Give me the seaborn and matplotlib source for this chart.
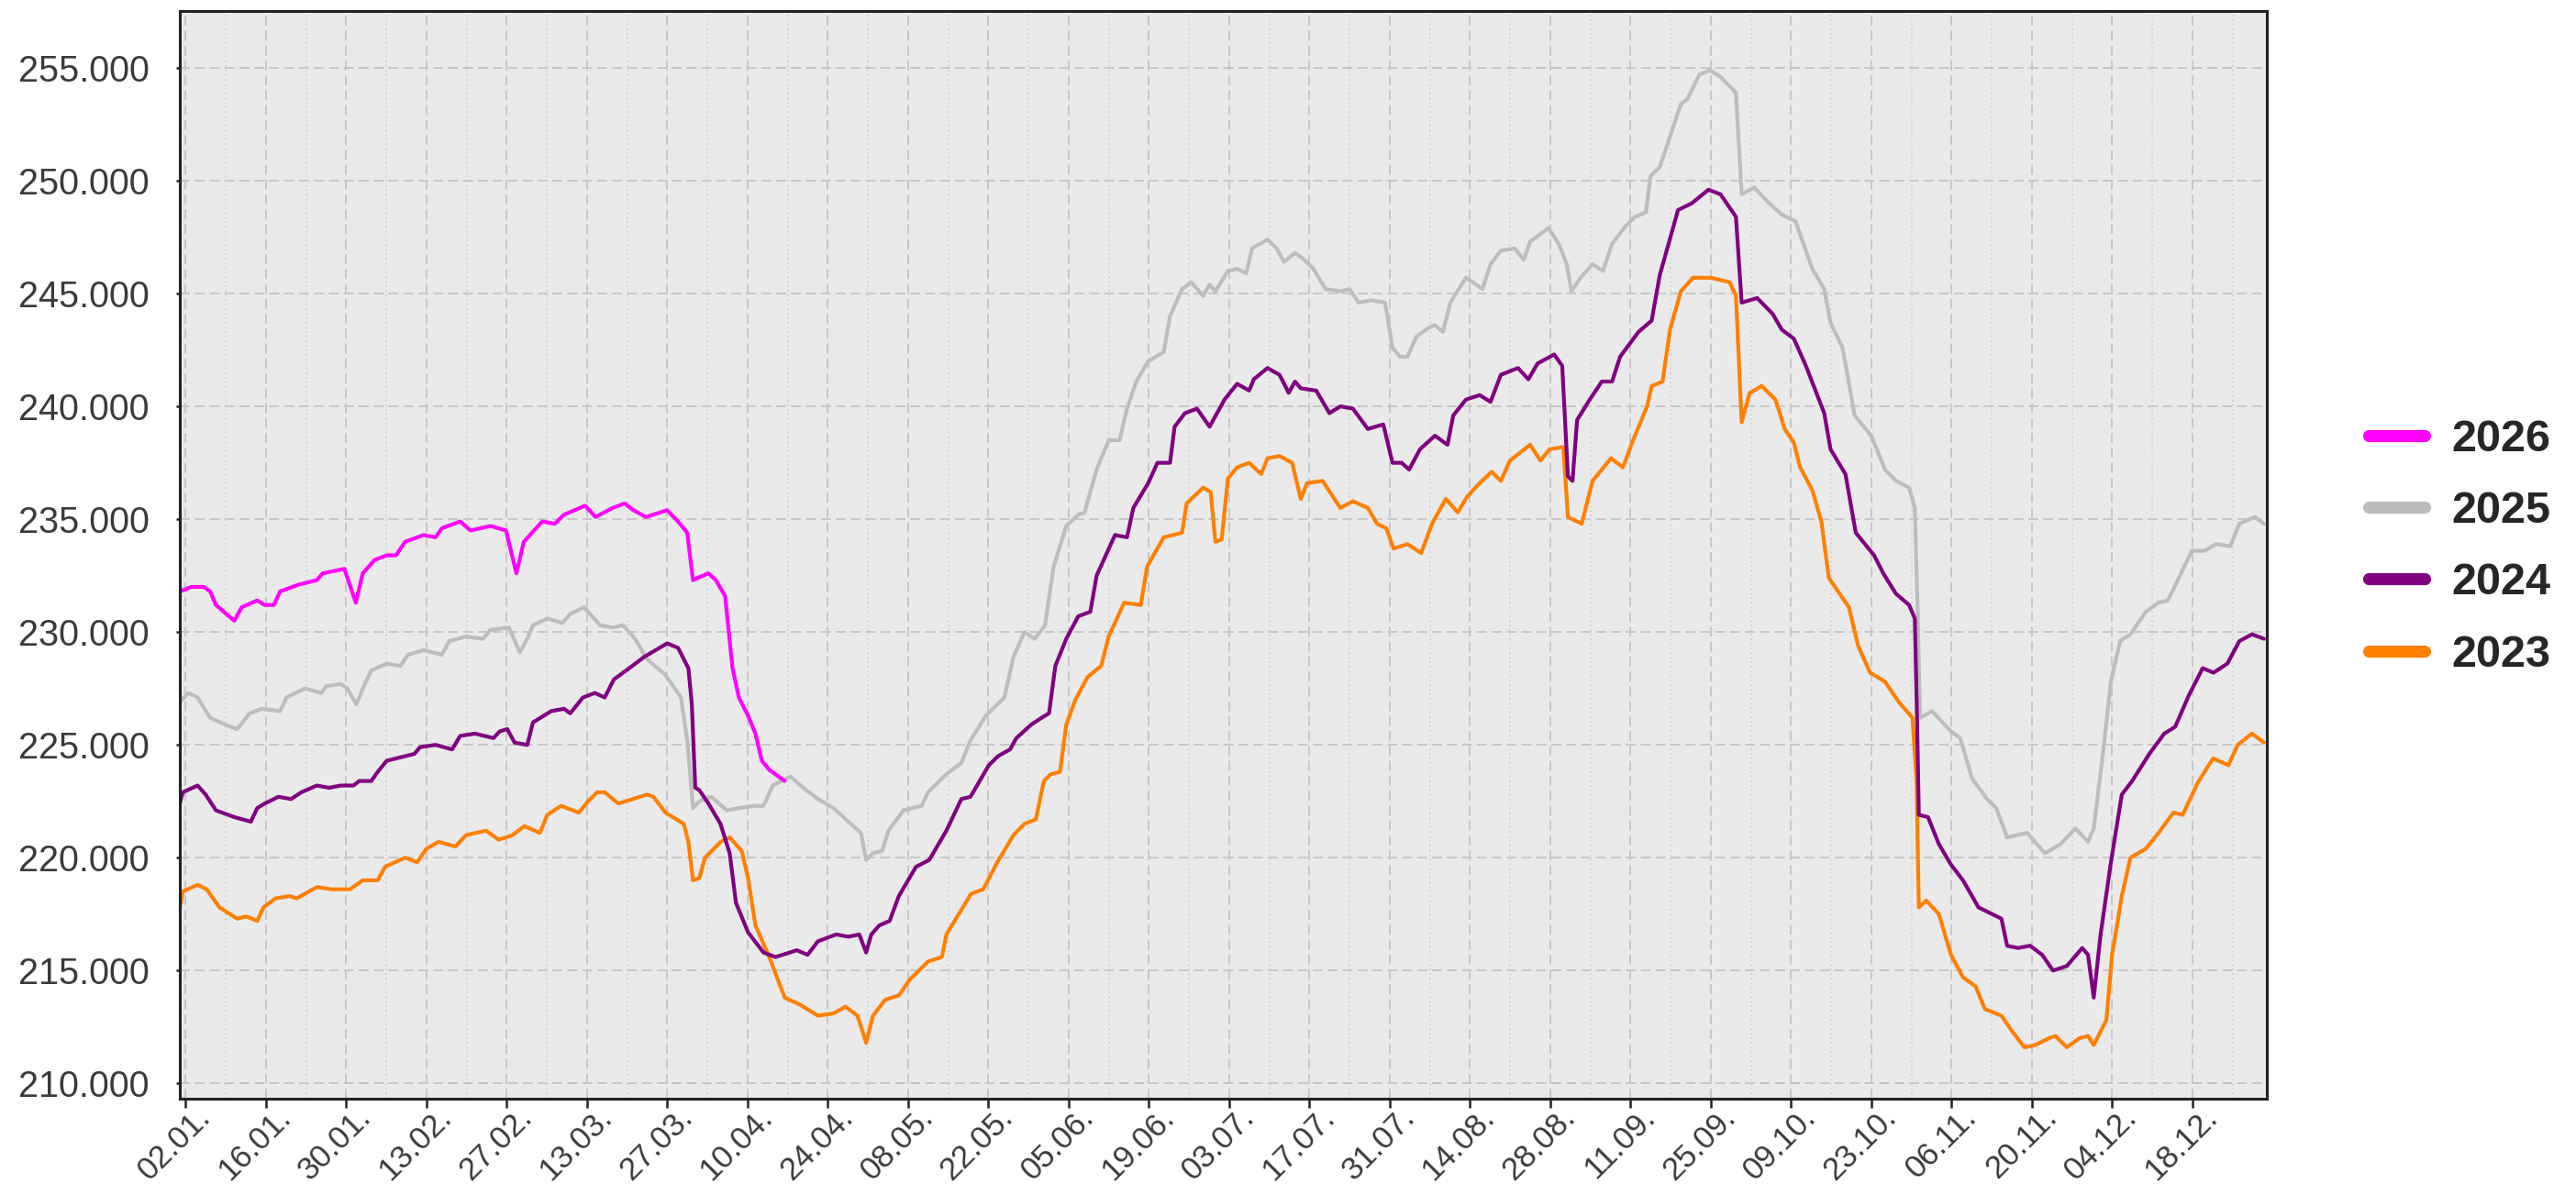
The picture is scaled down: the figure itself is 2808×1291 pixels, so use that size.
import pandas as pd
import matplotlib
matplotlib.use("Agg")
import matplotlib.pyplot as plt
import matplotlib.transforms as mtransforms
import seaborn as sns

# values in thousands, x = day of year (0 = 01.01.)
days_2026 = [0, 2.0, 4.2, 5.3, 6.3, 9.5, 10.8, 13.5, 14.8, 16.4, 17.5, 20.7, 23.9, 24.9, 28.7, 30.7, 31.9,
             34.0, 36.1, 37.7, 39.3, 42.5, 44.6, 45.7, 48.9, 50.7, 54.2, 56.9, 58.7, 60.0, 63.2, 65.4, 67.0,
             70.7, 72.5, 75.5, 77.6, 79.1, 81.3, 85.0, 86.9, 88.5, 89.5, 90.3, 92.2, 93.5, 95.1, 96.4, 97.5,
             99.1, 100.4, 101.5, 102.8, 104.4, 105.5]
vals_2026 = [231.8, 232.0, 232.0, 231.8, 231.2, 230.5, 231.1, 231.4, 231.2, 231.2, 231.8, 232.1, 232.3, 232.6,
             232.8, 231.3, 232.6, 233.2, 233.4, 233.4, 234.0, 234.3, 234.2, 234.6, 234.9, 234.5, 234.7, 234.5,
             232.6, 234.0, 234.9, 234.8, 235.2, 235.6, 235.1, 235.5, 235.7, 235.4, 235.1, 235.4, 234.9, 234.4,
             232.3, 232.4, 232.6, 232.3, 231.6, 228.4, 227.1, 226.3, 225.5, 224.3, 223.9, 223.6, 223.4]

days_2025 = [0, 1.5, 3.1, 5.3, 7.9, 10.0, 12.2, 14.3, 17.5, 18.6, 21.8, 24.7, 25.5, 28.1, 29.2, 30.8, 32.1,
             33.4, 36.1, 38.5, 39.8, 42.5, 45.7, 47.0, 49.9, 52.9, 54.2, 57.4, 59.3, 60.6, 61.6, 64.1, 66.7,
             68.1, 70.5, 73.3, 75.5, 77.3, 79.4, 81.5, 84.7, 87.4, 88.5, 89.5, 90.6, 92.7, 95.4, 97.5, 100.2,
             101.8, 103.4, 106.5, 108.7, 111.3, 114.0, 116.6, 118.8, 119.7, 120.9, 122.5, 123.6, 126.2, 129.4,
             130.5, 133.7, 136.3, 137.9, 140.6, 143.8, 145.4, 147.3, 149.1, 150.9, 152.4, 154.6, 156.7, 157.8,
             159.9, 162.0, 163.9, 165.2, 166.8, 168.9, 171.6, 172.7, 174.8, 176.4, 178.5, 179.6, 180.6, 182.8,
             184.4, 186.0, 187.0, 189.7, 191.3, 192.6, 194.5, 196.1, 197.7, 199.8, 202.4, 204.0, 205.6, 207.8,
             210.2, 211.5, 212.8, 214.1, 215.7, 217.9, 218.9, 220.3, 221.6, 224.3, 227.2, 228.6, 230.4, 232.8,
             234.4, 235.5, 238.7, 240.5, 241.9, 242.7, 244.3, 246.4, 248.2, 249.8, 252.2, 253.8, 255.7, 256.5,
             258.1, 259.7, 261.8, 262.9, 265.0, 266.9, 268.7, 271.4, 272.4, 274.6, 277.2, 279.4, 281.8, 284.7,
             286.8, 287.9, 290.0, 292.1, 295.0, 297.4, 299.3, 301.6, 302.6, 303.1, 303.5, 305.6, 308.9, 310.5,
             312.6, 315.2, 316.8, 318.7, 322.2, 325.3, 328.0, 330.6, 332.8, 333.8, 335.4, 336.8, 338.4, 340.2,
             342.9, 345.1, 346.7, 347.7, 350.9, 353.1, 355.2, 357.6, 359.2, 361.9, 363.5]
vals_2025 = [226.9, 227.3, 227.1, 226.2, 225.9, 225.7, 226.4, 226.6, 226.5, 227.1, 227.5, 227.3, 227.6, 227.7,
             227.5, 226.8, 227.6, 228.3, 228.6, 228.5, 229.0, 229.2, 229.0, 229.6, 229.8, 229.7, 230.1, 230.2,
             229.1, 229.7, 230.3, 230.6, 230.4, 230.8, 231.1, 230.3, 230.2, 230.3, 229.7, 228.8, 228.1, 227.1,
             225.2, 222.2, 222.5, 222.7, 222.1, 222.2, 222.3, 222.3, 223.2, 223.6, 223.1, 222.6, 222.2, 221.6,
             221.1, 219.9, 220.2, 220.3, 221.2, 222.1, 222.3, 222.9, 223.7, 224.2, 225.2, 226.3, 227.1, 228.9,
             230.0, 229.7, 230.3, 232.9, 234.7, 235.2, 235.3, 237.2, 238.5, 238.5, 239.9, 241.1, 242.0, 242.4,
             244.0, 245.2, 245.5, 244.9, 245.4, 245.1, 246.0, 246.1, 245.9, 247.0, 247.4, 247.0, 246.4, 246.8,
             246.5, 246.1, 245.2, 245.1, 245.2, 244.6, 244.7, 244.6, 242.6, 242.2, 242.2, 243.1, 243.5, 243.6,
             243.3, 244.6, 245.7, 245.2, 246.3, 246.9, 247.0, 246.5, 247.3, 247.9, 247.2, 246.3, 245.1, 245.7,
             246.3, 246.0, 247.2, 248.0, 248.4, 248.6, 250.2, 250.6, 251.8, 253.4, 253.6, 254.7, 254.9, 254.6,
             253.9, 249.4, 249.7, 249.0, 248.5, 248.2, 246.1, 245.2, 243.7, 242.6, 239.6, 238.7, 237.2, 236.7,
             236.4, 235.5, 230.9, 226.2, 226.5, 225.6, 225.3, 223.5, 222.6, 222.2, 220.9, 221.1, 220.2, 220.6,
             221.3, 220.7, 221.3, 224.6, 227.8, 229.6, 229.9, 230.9, 231.3, 231.4, 231.9, 233.6, 233.6, 233.9,
             233.8, 234.8, 235.1, 234.8]

days_2024 = [0, 0.5, 3.1, 4.5, 6.3, 9.5, 12.4, 13.5, 14.8, 17.2, 19.4, 21.2, 23.9, 26.0, 28.1, 30.3, 31.3,
             33.4, 34.5, 36.1, 39.3, 40.9, 41.9, 44.6, 47.5, 48.9, 51.5, 54.7, 55.8, 57.1, 58.4, 60.6, 61.6,
             64.8, 67.0, 68.1, 70.3, 72.4, 74.1, 75.7, 78.4, 81.0, 85.0, 86.9, 88.7, 89.3, 89.9, 90.6, 92.2,
             94.3, 95.9, 97.0, 99.1, 101.8, 103.9, 107.6, 109.5, 111.3, 114.5, 116.6, 118.5, 119.7, 120.6,
             122.0, 123.8, 125.4, 128.4, 130.7, 133.7, 136.3, 137.9, 141.1, 142.7, 144.8, 145.9, 148.5, 150.3,
             151.6, 152.7, 154.6, 156.7, 158.8, 159.9, 163.1, 165.2, 166.3, 168.9, 170.5, 172.7, 173.5, 175.3,
             177.4, 179.6, 182.2, 184.4, 186.5, 187.3, 189.7, 191.8, 193.4, 194.5, 195.5, 198.2, 200.5, 202.4,
             204.6, 207.2, 209.9, 211.5, 213.1, 214.4, 216.3, 218.9, 221.1, 222.1, 224.3, 226.7, 228.6, 230.4,
             233.4, 235.2, 236.8, 239.7, 241.1, 242.1, 242.9, 243.7, 245.9, 248.0, 249.8, 251.2, 254.4, 256.7,
             258.1, 261.3, 263.7, 266.6, 268.7, 271.4, 272.4, 275.1, 277.8, 279.4, 281.5, 283.6, 286.8, 287.9,
             290.5, 292.3, 295.5, 297.1, 299.3, 301.6, 302.6, 303.0, 303.3, 304.9, 306.8, 308.9, 311.0, 313.7,
             317.7, 318.7, 320.6, 322.7, 324.8, 326.7, 329.1, 331.8, 332.8, 333.8, 335.0, 336.8, 338.7, 340.5,
             343.5, 346.1, 348.0, 350.4, 352.8, 354.7, 357.1, 359.2, 361.4, 363.5]
vals_2024 = [222.4, 222.9, 223.2, 222.8, 222.1, 221.8, 221.6, 222.2, 222.4, 222.7, 222.6, 222.9, 223.2, 223.1,
             223.2, 223.2, 223.4, 223.4, 223.8, 224.3, 224.5, 224.6, 224.9, 225.0, 224.8, 225.4, 225.5, 225.3,
             225.6, 225.7, 225.1, 225.0, 226.0, 226.5, 226.6, 226.4, 227.1, 227.3, 227.1, 227.9, 228.4, 228.9,
             229.5, 229.3, 228.4, 226.8, 223.1, 223.0, 222.4, 221.5, 220.2, 218.0, 216.7, 215.8, 215.6, 215.9,
             215.7, 216.3, 216.6, 216.5, 216.6, 215.8, 216.6, 217.0, 217.2, 218.3, 219.6, 219.9, 221.2, 222.6,
             222.7, 224.1, 224.5, 224.8, 225.3, 225.9, 226.2, 226.4, 228.5, 229.7, 230.7, 230.9, 232.5, 234.3,
             234.2, 235.5, 236.6, 237.5, 237.5, 239.1, 239.7, 239.9, 239.1, 240.3, 241.0, 240.7, 241.2, 241.7,
             241.4, 240.6, 241.1, 240.8, 240.7, 239.7, 240.0, 239.9, 239.0, 239.2, 237.5, 237.5, 237.2, 238.1,
             238.7, 238.3, 239.6, 240.3, 240.5, 240.2, 241.4, 241.7, 241.2, 241.9, 242.3, 241.8, 236.9, 236.7,
             239.4, 240.3, 241.1, 241.1, 242.2, 243.3, 243.8, 245.8, 248.7, 249.0, 249.6, 249.4, 248.4, 244.6,
             244.8, 244.1, 243.4, 243.0, 241.8, 239.7, 238.1, 237.0, 234.4, 233.4, 232.6, 231.7, 231.2, 230.6,
             226.0, 221.9, 221.8, 220.6, 219.7, 219.0, 217.8, 217.3, 216.1, 216.0, 216.1, 215.7, 215.0, 215.2,
             216.0, 215.7, 213.8, 216.6, 219.8, 222.8, 223.4, 224.6, 225.5, 225.8, 227.2, 228.4, 228.2, 228.6,
             229.6, 229.9, 229.7]

days_2023 = [0, 0.5, 3.1, 4.7, 6.9, 10.0, 11.6, 13.5, 14.6, 16.7, 19.1, 20.4, 23.9, 26.5, 29.7, 31.9, 34.5,
             35.8, 39.3, 41.4, 43.0, 45.1, 48.1, 49.9, 53.4, 55.6, 58.0, 60.1, 62.8, 64.1, 66.5, 69.6, 71.2,
             72.8, 74.1, 76.5, 81.5, 82.6, 84.7, 87.9, 88.7, 89.5, 90.6, 91.6, 94.3, 95.9, 98.0, 99.1, 100.4,
             102.8, 105.5, 108.1, 111.3, 114.0, 116.1, 118.2, 119.7, 120.9, 123.0, 125.4, 127.3, 130.5, 132.9,
             133.7, 138.0, 140.1, 142.8, 145.4, 147.3, 149.3, 150.7, 151.9, 153.5, 154.6, 156.2, 158.3, 160.7,
             162.0, 164.7, 167.6, 168.7, 171.6, 174.8, 175.6, 178.5, 179.8, 180.6, 181.7, 182.8, 184.4, 186.5,
             188.6, 189.7, 191.8, 194.0, 195.5, 196.6, 199.3, 202.4, 204.6, 207.2, 208.8, 210.4, 211.7, 214.1,
             216.5, 218.4, 220.8, 222.9, 224.5, 226.7, 228.8, 230.4, 232.0, 235.5, 237.3, 238.9, 241.3, 242.1,
             244.5, 246.4, 249.6, 251.7, 253.3, 255.9, 256.7, 258.6, 259.9, 261.8, 263.9, 267.1, 270.3, 271.4,
             272.4, 273.8, 275.9, 278.3, 279.9, 281.5, 282.6, 284.7, 286.3, 287.6, 291.1, 292.7, 294.8, 297.4,
             299.8, 302.2, 302.9, 303.3, 304.6, 306.8, 308.9, 311.0, 313.2, 314.8, 317.7, 319.6, 321.7, 323.6,
             326.0, 327.1, 329.1, 331.3, 332.8, 333.8, 336.0, 337.0, 338.7, 340.2, 342.9, 345.1, 347.7, 349.3,
             351.9, 354.6, 357.3, 358.9, 361.4, 363.5]
vals_2023 = [217.8, 218.5, 218.8, 218.6, 217.8, 217.3, 217.4, 217.2, 217.8, 218.2, 218.3, 218.2, 218.7, 218.6,
             218.6, 219.0, 219.0, 219.6, 220.0, 219.8, 220.4, 220.7, 220.5, 221.0, 221.2, 220.8, 221.0, 221.4,
             221.1, 221.9, 222.3, 222.0, 222.5, 222.9, 222.9, 222.4, 222.8, 222.7, 222.0, 221.5, 220.7, 219.0,
             219.1, 220.0, 220.7, 220.9, 220.3, 219.1, 217.0, 215.6, 213.8, 213.5, 213.0, 213.1, 213.4, 213.0,
             211.8, 213.0, 213.7, 213.9, 214.6, 215.4, 215.6, 216.6, 218.4, 218.6, 219.9, 221.0, 221.5, 221.7,
             223.4, 223.7, 223.8, 225.9, 227.0, 228.0, 228.5, 229.8, 231.3, 231.2, 232.9, 234.2, 234.4, 235.7,
             236.4, 236.2, 234.0, 234.1, 236.8, 237.3, 237.5, 237.0, 237.7, 237.8, 237.5, 235.9, 236.6, 236.7,
             235.5, 235.8, 235.5, 234.8, 234.6, 233.7, 233.9, 233.5, 234.8, 235.9, 235.3, 236.0, 236.6, 237.1,
             236.7, 237.6, 238.3, 237.6, 238.1, 238.2, 235.1, 234.8, 236.7, 237.7, 237.3, 238.4, 240.0, 240.9,
             241.1, 243.4, 245.1, 245.7, 245.7, 245.5, 244.9, 239.3, 240.6, 240.9, 240.3, 239.0, 238.4, 237.3,
             236.3, 234.9, 232.4, 231.1, 229.4, 228.2, 227.8, 226.9, 226.2, 223.4, 217.8, 218.1, 217.5, 215.7,
             214.7, 214.3, 213.3, 213.0, 212.3, 211.6, 211.7, 212.0, 212.1, 211.6, 212.0, 212.1, 211.7, 212.8,
             215.7, 218.3, 220.0, 220.4, 221.1, 222.0, 221.9, 223.3, 224.4, 224.1, 225.0, 225.5, 225.1]

years = ["2026", "2025", "2024", "2023"]
colors = {"2026": "#FF00FF", "2025": "#BDBDBD", "2024": "#800080", "2023": "#FF8000"}

tick_days = [1, 15, 29, 43, 57, 71, 85, 99, 113, 127, 141, 155, 169, 183, 197, 211, 225, 239, 253, 267,
             281, 295, 309, 323, 337, 351]
tick_labels = ["02.01.", "16.01.", "30.01.", "13.02.", "27.02.", "13.03.", "27.03.", "10.04.", "24.04.",
               "08.05.", "22.05.", "05.06.", "19.06.", "03.07.", "17.07.", "31.07.", "14.08.", "28.08.",
               "11.09.", "25.09.", "09.10.", "23.10.", "06.11.", "20.11.", "04.12.", "18.12."]
ytick_vals = [210000, 215000, 220000, 225000, 230000, 235000, 240000, 245000, 250000, 255000]
ytick_labels = ["210.000", "215.000", "220.000", "225.000", "230.000", "235.000", "240.000", "245.000",
                "250.000", "255.000"]

series = {"2026": (days_2026, vals_2026), "2025": (days_2025, vals_2025),
          "2024": (days_2024, vals_2024), "2023": (days_2023, vals_2023)}
frames = []
for y in years:
    d, v = series[y]
    frames.append(pd.DataFrame({"day": d, "value": [x * 1000 for x in v], "year": y}))
df = pd.concat(frames, ignore_index=True)

sns.set_style("ticks", {"axes.facecolor": "#EAEAEA", "axes.edgecolor": "#222222"})
plt.rcParams["font.family"] = ["Liberation Sans", "DejaVu Sans"]

fig = plt.figure(figsize=(28.08, 12.91), dpi=100)
ax = fig.add_axes([0.0698, 0.0720, 0.8102, 0.9187])

for y in ["2025", "2023", "2024", "2026"]:  # drawing order
    sns.lineplot(data=df[df["year"] == y], x="day", y="value", color=colors[y], linewidth=3.0,
                 estimator=None, label=y, ax=ax)

handles, labels = ax.get_legend_handles_labels()
ax.get_legend().remove()
order = [labels.index(y) for y in years]
leg = fig.legend([handles[i] for i in order], [labels[i] for i in order], loc="center left",
                 bbox_to_anchor=(0.9195, 0.5376), frameon=False, prop={"size": 35, "weight": "bold"},
                 handlelength=1.25, handletextpad=0.62, labelspacing=0.68, borderpad=0, borderaxespad=0)
for line in leg.get_lines():
    line.set_linewidth(9.5)

ax.set_xlim(0, 364)
ax.set_ylim(209320, 257520)
ax.set_xticks(tick_days)
ax.set_xticklabels(tick_labels)
ax.set_xticks([d + 7 for d in tick_days], minor=True)
ax.set_yticks(ytick_vals)
ax.set_yticklabels(ytick_labels)

ax.grid(which="major", axis="both", linestyle=(0, (6, 3)), color="#C4C4C4", linewidth=1.3)
ax.grid(which="minor", axis="x", linestyle=(0, (1, 2)), color="#D0D0D0", linewidth=1.2)
ax.set_axisbelow(True)

ax.tick_params(which="major", direction="out", width=1.8, color="#222222", labelcolor="#3A3A3A")
ax.tick_params(axis="y", length=3, pad=21, labelsize=28.5)
ax.tick_params(axis="x", length=7, pad=4, labelsize=25)
ax.tick_params(which="minor", length=0)

# rotated date labels, ending just right of the tick
shift = mtransforms.ScaledTranslation(22 / 100, 0, fig.dpi_scale_trans)
for lab in ax.get_xticklabels():
    lab.set_rotation(45)
    lab.set_ha("right")
    lab.set_va("center")
    lab.set_rotation_mode("anchor")
    lab.set_transform(lab.get_transform() + shift)

for s in ax.spines.values():
    s.set_linewidth(2.2)
    s.set_color("#222222")
ax.set_xlabel("")
ax.set_ylabel("")

fig.savefig("out.png", dpi=100)
